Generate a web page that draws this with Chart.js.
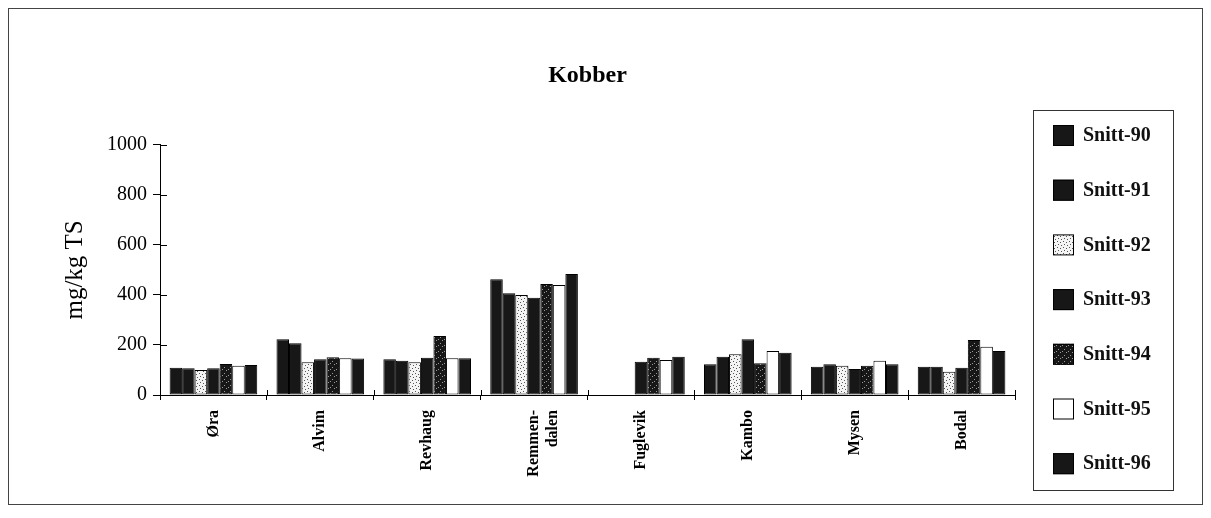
<!DOCTYPE html>
<html>
<head>
<meta charset="utf-8">
<style>
  html, body { margin: 0; padding: 0; background: #fff; }
  #wrap { width: 1211px; height: 518px; position: relative; }
</style>
<script src="https://cdn.jsdelivr.net/npm/chart.js@4.4.1/dist/chart.umd.min.js"></script>
</head>
<body>
<div id="wrap"><canvas id="chart" width="1211" height="518"></canvas></div>
<script>
// Copper (Kobber) concentrations per station, mg/kg TS, yearly averages 1990-1996
const categories = ['Øra', 'Alvim', 'Revhaug', ['Remmen-', 'dalen'], 'Fuglevik', 'Kambo', 'Mysen', 'Bodal'];
const seriesNames = ['Snitt-90', 'Snitt-91', 'Snitt-92', 'Snitt-93', 'Snitt-94', 'Snitt-95', 'Snitt-96'];
const snitt90 = [109, 223, 143, 463, null, 123, 113, 113];
const snitt91 = [107, 207, 137, 407, null, 153, 123, 113];
const snitt92 = [100, 131, 131, 400, null, 163, 117, 93];
const snitt93 = [107, 143, 149, 389, 133, 223, 104, 109];
const snitt94 = [124, 151, 236, 444, 149, 127, 117, 220];
const snitt95 = [117, 147, 147, 440, 140, 176, 137, 193];
const snitt96 = [120, 146, 147, 484, 153, 169, 123, 176];
const yTicks = [0, 200, 400, 600, 800, 1000];

const SERIF = '"Liberation Serif", "Times New Roman", serif';
const DARK = '#171717';

// Speckled fills: light with dark specks, and dark with light specks
function speckle(base, dot, pts) {
  const c = document.createElement('canvas');
  c.width = 6; c.height = 6;
  const g = c.getContext('2d');
  g.fillStyle = base; g.fillRect(0, 0, 6, 6);
  g.fillStyle = dot;
  pts.forEach(p => g.fillRect(p[0], p[1], 1, 1));
  return g.createPattern(c, 'repeat');
}
const lightSpeckle = speckle('#f4f4f4', '#555', [[1, 1], [4, 2], [2, 4], [5, 5]]);
const darkSpeckle = speckle(DARK, '#9a9a9a', [[2, 1], [4, 4], [0, 3]]);

const fills = [DARK, DARK, lightSpeckle, DARK, darkSpeckle, '#ffffff', DARK];
const seriesValues = [snitt90, snitt91, snitt92, snitt93, snitt94, snitt95, snitt96];

// Outer frame around the whole figure
const framePlugin = {
  id: 'frame',
  beforeDraw(chart) {
    const ctx = chart.ctx;
    ctx.save();
    ctx.fillStyle = '#fff';
    ctx.fillRect(0, 0, chart.width, chart.height);
    ctx.strokeStyle = '#444';
    ctx.lineWidth = 1;
    ctx.strokeRect(8.5, 8.5, 1194, 496);
    ctx.restore();
  }
};

// Tick marks that cross the axes (inner half)
const crossTicks = {
  id: 'crossTicks',
  afterDraw(chart) {
    const ctx = chart.ctx;
    const y = chart.scales.y, x = chart.scales.x;
    ctx.save();
    ctx.strokeStyle = '#000';
    ctx.lineWidth = 1;
    ctx.beginPath();
    yTicks.forEach(v => {
      const py = Math.round(y.getPixelForValue(v)) + 0.5;
      ctx.moveTo(x.left, py); ctx.lineTo(x.left + 7, py);
    });
    for (let i = 0; i <= categories.length; i++) {
      const px = Math.round(x.getPixelForValue(i - 0.5)) + 0.5;
      ctx.moveTo(px, y.bottom); ctx.lineTo(px, y.bottom - 5);
    }
    ctx.stroke();
    ctx.restore();
  }
};

// Boxed legend to the right of the plot
const boxLegend = {
  id: 'boxLegend',
  afterDraw(chart, args, opts) {
    const ctx = chart.ctx;
    ctx.save();
    ctx.strokeStyle = '#333';
    ctx.lineWidth = 1;
    ctx.strokeRect(opts.left + 0.5, opts.top + 0.5, opts.width, opts.height);
    ctx.font = opts.font;
    ctx.textBaseline = 'middle';
    ctx.textAlign = 'left';
    chart.data.datasets.forEach((ds, i) => {
      const cy = opts.firstY + i * opts.step;
      ctx.fillStyle = ds.backgroundColor;
      ctx.fillRect(opts.left + 20, cy - 10, 21, 21);
      ctx.strokeStyle = '#000';
      ctx.strokeRect(opts.left + 20.5, cy - 9.5, 20, 20);
      ctx.fillStyle = '#111';
      ctx.fillText(ds.label, opts.left + 50, cy + 1);
    });
    ctx.restore();
  }
};

new Chart(document.getElementById('chart'), {
  type: 'bar',
  data: {
    labels: categories,
    datasets: seriesNames.map((name, i) => ({
      label: name,
      data: seriesValues[i],
      backgroundColor: fills[i],
      borderColor: '#000',
      borderWidth: 1,
      borderSkipped: false,
      categoryPercentage: 0.82,
      barPercentage: 1.0
    }))
  },
  options: {
    responsive: false,
    animation: false,
    devicePixelRatio: 1,
    layout: { padding: { top: 10, left: 10, right: 196, bottom: 0 } },
    plugins: {
      legend: { display: false },
      tooltip: { enabled: false },
      title: {
        display: true,
        text: 'Kobber',
        fullSize: false,
        color: '#000',
        font: { family: SERIF, size: 24, weight: 'bold', lineHeight: 1.2 },
        padding: { top: 51, bottom: 55 }
      },
      boxLegend: {
        left: 1033, top: 110, width: 140, height: 380,
        firstY: 135, step: 54.7,
        font: 'bold 20px ' + SERIF
      }
    },
    scales: {
      x: {
        grid: { display: true, offset: true, drawOnChartArea: false, drawTicks: true, tickLength: 5, color: '#000' },
        border: { display: true, color: '#000', width: 1 },
        ticks: {
          color: '#000',
          font: { family: SERIF, size: 16, weight: 'bold' },
          minRotation: 90, maxRotation: 90, padding: 10, autoSkip: false
        },
        afterFit(scale) { scale.height = 123; }
      },
      y: {
        min: 0, max: 1000,
        afterBuildTicks(scale) { scale.ticks = yTicks.map(v => ({ value: v })); },
        grid: { display: true, drawOnChartArea: false, drawTicks: true, tickLength: 7, color: '#000' },
        border: { display: true, color: '#000', width: 1 },
        ticks: {
          color: '#000', font: { family: SERIF, size: 20 }, padding: 6,
          callback: v => String(v)
        },
        title: {
          display: true, text: 'mg/kg TS', color: '#000',
          font: { family: SERIF, size: 25 }, padding: { top: 50, bottom: 0 }
        },
        afterFit(scale) { scale.width = 150; }
      }
    }
  },
  plugins: [framePlugin, crossTicks, boxLegend]
});
</script>
</body>
</html>
